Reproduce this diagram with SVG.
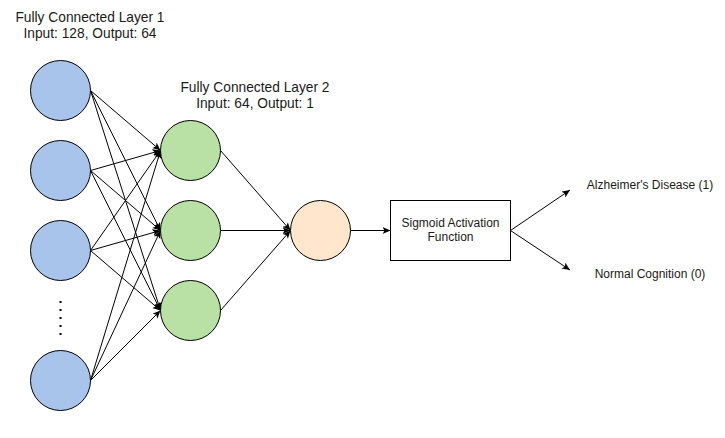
<svg xmlns="http://www.w3.org/2000/svg" width="725" height="438" viewBox="0 0 725 438">
<style>
.t{font-family:"Liberation Sans",Arial,sans-serif;fill:#1a1a1a;text-anchor:middle}
.title{font-size:13.75px}
.lab{font-size:12px}
.c{stroke:#000;stroke-width:1}
.blue{fill:#a9c4eb}
.green{fill:#b9e0a5}
.orange{fill:#ffe6cc}
.e{stroke:#000;stroke-width:1;fill:none;marker-end:url(#arr)}
</style>
<defs>
<marker id="arr" markerUnits="userSpaceOnUse" markerWidth="10" markerHeight="8" refX="8" refY="3.5" orient="auto">
<path d="M0,0 L8,3.5 L0,7 L2,3.5 Z" fill="#000"/>
</marker>
</defs>
<rect width="725" height="438" fill="#fff"/>
<g id="title1">
<text class="t title" x="90" y="22">Fully Connected Layer 1</text>
<text class="t title" x="90" y="38">Input: 128, Output: 64</text>
</g>
<g id="title2">
<text class="t title" x="255" y="92">Fully Connected Layer 2</text>
<text class="t title" x="255" y="108">Input: 64, Output: 1</text>
</g>
<g id="connectors">
<line class="e" x1="90.5" y1="90.5" x2="160.5" y2="150.5"/>
<line class="e" x1="90.5" y1="90.5" x2="160.5" y2="230.5"/>
<line class="e" x1="90.5" y1="90.5" x2="160.5" y2="310.5"/>
<line class="e" x1="90.5" y1="170.5" x2="160.5" y2="150.5"/>
<line class="e" x1="90.5" y1="170.5" x2="160.5" y2="230.5"/>
<line class="e" x1="90.5" y1="170.5" x2="160.5" y2="310.5"/>
<line class="e" x1="90.5" y1="250.5" x2="160.5" y2="150.5"/>
<line class="e" x1="90.5" y1="250.5" x2="160.5" y2="230.5"/>
<line class="e" x1="90.5" y1="250.5" x2="160.5" y2="310.5"/>
<line class="e" x1="90.5" y1="380.5" x2="160.5" y2="150.5"/>
<line class="e" x1="90.5" y1="380.5" x2="160.5" y2="230.5"/>
<line class="e" x1="90.5" y1="380.5" x2="160.5" y2="310.5"/>
<line class="e" x1="220.5" y1="150.5" x2="290.5" y2="230.5"/>
<line class="e" x1="220.5" y1="230.5" x2="290.5" y2="230.5"/>
<line class="e" x1="220.5" y1="310.5" x2="290.5" y2="230.5"/>
<line class="e" x1="350.5" y1="230.5" x2="390.5" y2="230.5"/>
<line class="e" x1="510.5" y1="230.5" x2="570" y2="190"/>
<line class="e" x1="510.5" y1="230.5" x2="570" y2="270"/>
</g>
<g id="in1"><circle class="c blue" cx="60.5" cy="90.5" r="30"/></g>
<g id="in2"><circle class="c blue" cx="60.5" cy="170.5" r="30"/></g>
<g id="in3"><circle class="c blue" cx="60.5" cy="250.5" r="30"/></g>
<g id="dots"><line x1="60.5" y1="301" x2="60.5" y2="336" stroke="#000" stroke-width="2" stroke-dasharray="2 6"/></g>
<g id="in4"><circle class="c blue" cx="60.5" cy="380.5" r="30"/></g>
<g id="h1"><circle class="c green" cx="190.5" cy="150.5" r="30"/></g>
<g id="h2"><circle class="c green" cx="190.5" cy="230.5" r="30"/></g>
<g id="h3"><circle class="c green" cx="190.5" cy="310.5" r="30"/></g>
<g id="out"><circle class="c orange" cx="320.5" cy="230.5" r="30"/></g>
<g id="sigmoid">
<rect x="390.5" y="200.5" width="120" height="60" fill="#fff" stroke="#000"/>
<text class="t lab" x="450.5" y="227">Sigmoid Activation</text>
<text class="t lab" x="450.5" y="241">Function</text>
</g>
<g id="ad"><text class="t lab" x="650" y="189">Alzheimer's Disease (1)</text></g>
<g id="nc"><text class="t lab" x="650" y="278">Normal Cognition (0)</text></g>
</svg>
